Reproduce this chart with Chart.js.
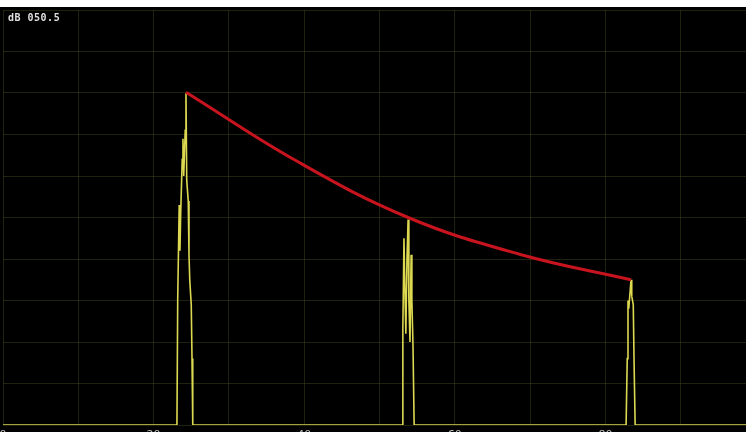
<!DOCTYPE html>
<html>
<head>
<meta charset="utf-8">
<script src="https://cdn.jsdelivr.net/npm/chart.js@4/dist/chart.umd.min.js"></script>
<style>
  html, body { margin: 0; padding: 0; background: #fff; overflow: hidden; }
  #screen { position: absolute; left: 0; top: 7px; width: 746px; height: 425px; background: #000; overflow: hidden; }
  #screen canvas { position: absolute; left: 0; top: 0; }
  #gain { position: absolute; left: 8px; top: 5px; color: #e0e0e0; font: bold 10px "DejaVu Sans Mono", monospace; letter-spacing: 0.5px; }
</style>
</head>
<body>
<div id="screen">
  <canvas id="scan" width="756" height="436"></canvas>
  <div id="gain">dB 050.5</div>
</div>
<script>
// x: sound path (0..100), y: screen height %
const tickLabels = ['0', '20', '40', '60', '80'];

const echo1X = [23.1, 23.2, 23.4, 23.5, 23.6, 23.8, 23.9, 24.0, 24.2, 24.3, 24.4, 24.6, 24.7, 24.8, 25.0, 25.1, 25.2];
const echo1Y = [0, 30, 53, 42, 51, 64, 69, 60, 71, 80, 59, 54, 41, 35, 29, 16, 0];

const echo2X = [53.0, 53.1, 53.25, 53.4, 53.5, 53.65, 53.8, 53.9, 54.05, 54.2, 54.3, 54.45, 54.6];
const echo2Y = [0, 23, 45, 30, 22, 40, 49.5, 30, 20, 41, 30, 19, 0];

const echo3X = [82.75, 82.9, 83.0, 83.1, 83.3, 83.4, 83.5, 83.7, 83.8, 83.95];
const echo3Y = [0, 16, 30, 28, 32.5, 35, 31, 29, 16, 0];

// DAC curve through the echo peaks
const dacX = [24.3, 39.0, 53.8, 68.7, 83.4];
const dacY = [80.2, 63.6, 50.0, 41.1, 35.0];

const toPoints = (xs, ys) => xs.map((x, i) => ({ x: x, y: ys[i] }));

const trace = [{ x: 0, y: 0 }]
  .concat(toPoints(echo1X, echo1Y))
  .concat(toPoints(echo2X, echo2Y))
  .concat(toPoints(echo3X, echo3Y))
  .concat([{ x: 100, y: 0 }]);

const gridColor = 'rgba(62, 68, 26, 0.5)';

new Chart(document.getElementById('scan'), {
  type: 'line',
  data: {
    datasets: [
      {
        label: 'DAC',
        data: toPoints(dacX, dacY),
        borderColor: '#c8141e',
        borderWidth: 3,
        pointRadius: 0,
        tension: 0.4,
        order: 0,
      },
      {
        label: 'A-scan',
        data: trace,
        borderColor: '#dcd850',
        borderWidth: 1.6,
        pointRadius: 0,
        tension: 0,
        order: 1,
      },
    ],
  },
  options: {
    responsive: false,
    animation: false,
    layout: { padding: { left: 3, top: 3, right: 0, bottom: 0 } },
    plugins: {
      legend: { display: false },
      tooltip: { enabled: false },
    },
    scales: {
      x: {
        type: 'linear',
        min: 0,
        max: 100,
        grid: { color: gridColor, drawTicks: false, lineWidth: 1 },
        border: { display: false },
        afterFit: (scale) => {
          scale.height = 18;
          scale.paddingLeft = 0;
          scale.paddingRight = 0;
        },
        ticks: {
          stepSize: 10,
          padding: 4,
          color: '#bdbdbd',
          font: { size: 11, family: 'DejaVu Sans' },
          maxRotation: 0,
          autoSkip: false,
          callback: (v) => (v % 20 === 0 && v < 100 ? tickLabels[v / 20] : ''),
        },
      },
      y: {
        min: 0,
        max: 100,
        grid: { color: gridColor, drawTicks: false, lineWidth: 1 },
        border: { display: false },
        ticks: { display: false, stepSize: 10 },
      },
    },
  },
});
</script>
</body>
</html>
